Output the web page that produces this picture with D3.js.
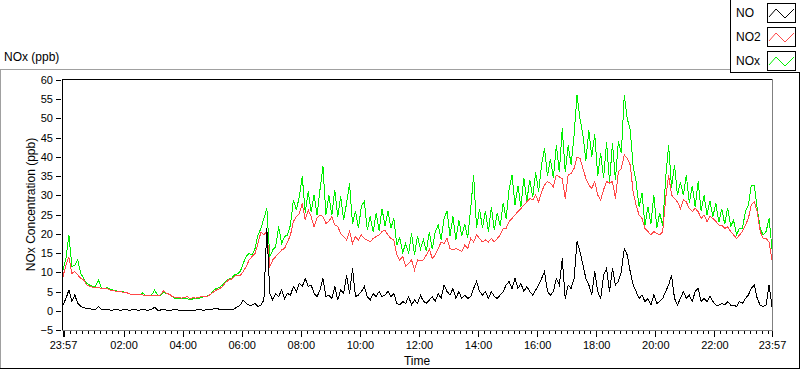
<!DOCTYPE html>
<html>
<head>
<meta charset="utf-8">
<script src="https://d3js.org/d3.v7.min.js"></script>
<style>
    html, body { margin: 0; padding: 0; background: #fff; }
    svg { display: block; }
</style>
</head>
<body>
<div id="chart-div"></div>
<script>
// DATA ///////////////////////////////////////////////////////////////////////
// One reading every 6 minutes, from 23:57 to 23:57 the next day.
const sampleStepMin = 6;

const seriesNames = ["NO", "NO2", "NOx"];

const noValues = [
    1.5, 3.2, 5.4, 2.4, 4.1, 1.9, 1.2, 0.8, 0.6, 0.5,
    0.4, 0.3, 1.1, 0.3, 0.2, 0.3, 0.2, 0.2, 0.3, 0.2,
    0.2, 0.3, 0.2, 0.2, 0.3, 0.2, 0.2, 0.3, 0.2, 0.2,
    0.4, 0.9, 0.2, 0.2, 0.3, 0.2, 0.2, 0.2, 0.3, 0.2,
    0.2, 0.2, 0.2, 0.2, 0.2, 0.2, 0.3, 0.2, 0.2, 0.3,
    0.2, 0.5, 0.7, 0.3, 0.2, 0.3, 0.2, 0.3, 0.5, 1.0,
    1.5, 2.8, 1.9, 1.5, 1.5, 1.9, 1.1, 1.5, 2.8, 21.5,
    4.5, 2.8, 4.5, 3.7, 5.4, 3.2, 4.5, 4.1, 6.3, 5.0,
    7.1, 6.3, 8.4, 6.3, 6.7, 4.5, 3.7, 5.4, 8.4, 3.7,
    4.1, 3.2, 6.3, 2.8, 5.4, 4.5, 9.3, 4.5, 11.0, 3.7,
    4.1, 5.0, 6.3, 3.7, 2.8, 4.5, 3.7, 5.0, 3.7, 4.1,
    5.0, 3.7, 4.5, 1.9, 1.5, 2.4, 1.9, 3.7, 1.5, 2.8,
    1.9, 4.0, 2.5, 1.9, 2.8, 3.7, 2.4, 4.5, 3.2, 6.7,
    5.0, 4.1, 5.8, 3.2, 5.0, 3.2, 4.1, 3.2, 3.7, 5.8,
    7.6, 5.0, 4.1, 5.0, 3.2, 5.0, 3.7, 3.2, 4.1, 5.0,
    6.7, 7.6, 5.8, 8.4, 5.8, 7.1, 5.0, 6.3, 5.0, 4.1,
    5.4, 6.7, 8.4, 10.2, 5.0, 4.1, 5.0, 8.4, 6.7, 13.6,
    3.2, 6.7, 5.8, 8.4, 18.0, 15.4, 11.9, 8.4, 6.7, 4.1,
    10.2, 5.0, 3.2, 9.3, 11.0, 5.0, 11.0, 6.7, 7.6, 10.2,
    16.2, 14.5, 10.2, 6.7, 5.0, 3.2, 4.1, 2.4, 3.2, 1.5,
    4.1, 1.9, 2.4, 3.2, 5.0, 6.7, 9.3, 3.2, 1.5, 3.2,
    5.0, 3.2, 4.1, 2.4, 5.0, 5.8, 2.4, 3.2, 2.4, 3.7,
    2.4, 1.5, 1.5, 1.9, 1.5, 2.4, 1.5, 1.5, 1.1, 2.4,
    1.9, 3.2, 4.1, 5.8, 6.7, 3.2, 1.5, 1.1, 1.5, 6.7,
    1.1
];

const no2Values = [
    8.9, 11.9, 14.0, 9.7, 10.2, 9.3, 8.4, 8.0, 6.7, 6.4,
    6.1, 6.0, 6.1, 5.8, 5.7, 5.7, 5.4, 5.2, 5.1, 4.9,
    4.9, 4.7, 4.6, 4.3, 4.3, 4.2, 4.2, 4.1, 4.0, 4.0,
    4.1, 4.1, 4.0, 4.1, 5.2, 4.5, 4.3, 3.7, 3.5, 3.4,
    3.3, 3.4, 3.7, 3.2, 3.4, 3.3, 3.5, 3.7, 3.8, 3.8,
    4.3, 4.9, 5.4, 5.7, 6.3, 7.3, 8.0, 8.2, 8.9, 9.3,
    9.2, 10.2, 11.5, 13.2, 14.1, 14.9, 17.5, 20.5, 19.7, 20.6,
    11.5, 13.2, 14.1, 14.9, 15.8, 16.2, 17.9, 19.7, 23.2, 24.5,
    25.3, 27.9, 23.6, 26.2, 24.5, 21.8, 24.1, 24.9, 24.5, 22.7,
    23.2, 24.5, 22.3, 21.9, 20.1, 19.3, 18.4, 20.6, 17.5, 19.3,
    18.4, 19.7, 18.8, 18.4, 17.9, 18.8, 19.3, 19.7, 20.6, 21.0,
    19.7, 18.8, 18.4, 14.5, 13.2, 14.1, 11.5, 12.3, 13.2, 10.6,
    13.2, 13.0, 13.2, 14.5, 16.0, 13.6, 14.5, 16.2, 17.9, 17.5,
    18.8, 16.2, 15.8, 16.2, 15.8, 15.4, 17.1, 16.2, 18.8, 17.9,
    19.7, 18.8, 17.9, 18.4, 17.9, 18.8, 17.9, 18.8, 19.7, 21.4,
    21.4, 23.2, 24.0, 24.9, 25.8, 26.6, 27.5, 28.3, 29.2, 28.8,
    30.1, 28.3, 30.9, 32.7, 33.6, 33.1, 32.2, 35.3, 34.8, 34.4,
    29.2, 35.3, 35.7, 37.0, 40.0, 39.6, 37.0, 34.4, 32.7, 31.8,
    33.6, 30.1, 28.8, 31.5, 33.6, 33.2, 33.6, 29.2, 36.1, 37.0,
    40.5, 39.6, 37.9, 30.9, 27.5, 24.9, 24.0, 21.4, 20.6, 19.7,
    20.6, 20.1, 19.7, 20.6, 29.2, 35.3, 30.1, 29.2, 28.3, 26.6,
    28.8, 28.3, 26.6, 25.8, 26.6, 25.8, 24.0, 24.9, 23.2, 24.5,
    24.0, 23.2, 22.3, 22.3, 21.4, 21.8, 20.6, 19.7, 18.8, 19.7,
    20.6, 22.3, 24.0, 27.5, 28.3, 25.8, 20.6, 18.8, 18.8, 17.9,
    13.2
];

const noxValues = [
    10.6, 13.6, 19.7, 11.5, 11.9, 13.2, 9.7, 8.4, 7.1, 6.7,
    6.3, 6.4, 8.0, 5.9, 5.8, 6.0, 5.6, 5.4, 5.2, 5.0,
    5.0, 4.8, 4.5, 4.3, 4.3, 4.3, 4.1, 4.7, 3.9, 3.9,
    4.1, 5.4, 4.1, 4.1, 4.7, 4.5, 4.3, 3.7, 3.2, 3.2,
    3.1, 3.2, 3.2, 2.8, 3.1, 3.2, 3.2, 3.5, 3.7, 3.9,
    4.3, 5.4, 5.8, 6.1, 6.7, 7.6, 8.2, 8.4, 9.3, 9.6,
    10.2, 12.3, 14.1, 14.9, 14.5, 16.2, 19.7, 21.4, 24.0, 26.6,
    14.1, 15.8, 16.7, 21.9, 17.5, 19.3, 19.7, 22.3, 28.8, 26.2,
    29.7, 34.9, 25.5, 31.0, 25.8, 30.2, 24.8, 31.5, 37.5, 25.0,
    30.0, 24.8, 31.5, 24.5, 29.7, 23.5, 28.0, 33.1, 22.5, 26.0,
    21.5, 27.1, 28.5, 21.0, 24.5, 20.5, 25.5, 20.8, 26.5, 22.0,
    26.0, 21.5, 24.0, 17.1, 19.0, 15.2, 17.5, 14.9, 20.1, 14.5,
    19.5, 16.0, 18.5, 15.5, 20.5, 16.0, 20.5, 22.3, 18.5, 24.0,
    26.0, 19.5, 24.5, 18.5, 23.5, 19.5, 22.5, 19.0, 26.5, 35.3,
    21.5, 26.5, 21.5, 26.0, 20.5, 27.0, 21.0, 25.5, 22.0, 28.0,
    24.0, 31.5, 35.3, 27.5, 32.5, 27.0, 34.5, 28.5, 34.0, 29.5,
    36.0, 31.0, 38.0, 42.2, 35.0, 39.5, 34.5, 43.1, 36.0, 47.4,
    36.0, 43.0, 38.0, 45.7, 56.1, 50.0, 45.7, 39.0, 47.0, 40.0,
    46.0, 35.0, 41.0, 34.5, 43.8, 33.5, 43.5, 34.0, 44.0, 41.0,
    56.1, 50.0, 47.0, 37.5, 33.5, 27.0, 30.5, 22.3, 27.0, 22.5,
    30.1, 21.5, 25.5, 22.0, 34.4, 43.1, 32.0, 38.0, 30.0, 33.5,
    30.0, 35.3, 28.0, 32.5, 27.0, 33.6, 26.0, 30.0, 25.0, 28.5,
    24.5, 28.0, 23.0, 26.5, 22.5, 26.8, 22.0, 23.5, 19.7, 21.5,
    21.4, 25.8, 27.5, 32.7, 32.7, 26.6, 21.4, 19.7, 20.6, 24.0,
    16.2
];

// Y ticks (ppb) and X ticks (minutes after 23:57) with their labels
const yTicks = [-5, 0, 5, 10, 15, 20, 25, 30, 35, 40, 45, 50, 55, 60];
const xTickMinutes = [0, 3, 123, 243, 363, 483, 603, 723, 843, 963, 1083, 1203, 1323, 1440];
const xTickLabels = ["23:57", "", "02:00", "04:00", "06:00", "08:00", "10:00",
                     "12:00", "14:00", "16:00", "18:00", "20:00", "22:00", "23:57"];

(function() {
    const FONT = "'Liberation Sans', Arial, sans-serif";
    const W = 800, H = 369;
    const plot = {left: 62, right: 772, top: 79, bottom: 330};
    const colors = {NO: "#000000", NO2: "#ff4848", NOx: "#00f000"};


    // CHART UTILITY FUNCTIONS ////////////////////////////////////////////////
    function createBlankChart(w, h, p) {
        return d3.select(p)
            .append("svg")
            .attr("width", w)
            .attr("height", h)
            .style("font-family", FONT);
    }

    function hline(svg, x1, x2, yy, color) {
        svg.append("line")
            .attr("x1", x1).attr("x2", x2)
            .attr("y1", yy + 0.5).attr("y2", yy + 0.5)
            .attr("stroke", color);
    }

    function vline(svg, xx, y1, y2, color) {
        svg.append("line")
            .attr("x1", xx + 0.5).attr("x2", xx + 0.5)
            .attr("y1", y1).attr("y2", y2)
            .attr("stroke", color);
    }

    // Outer panel and the plot area borders (LabVIEW-like 3D edges)
    function drawFrames(svg) {
        hline(svg, 0, 730, 69, "#a0a0a0");
        vline(svg, 0, 69, H, "#a0a0a0");
        hline(svg, 0, W, 368, "#000");
        vline(svg, 799, 72, H, "#000");

        hline(svg, plot.left, plot.right + 1, plot.top, "#000");
        vline(svg, plot.left, plot.top, plot.bottom + 1, "#000");
        hline(svg, plot.left, plot.right + 1, plot.bottom, "#808080");
        vline(svg, plot.right, plot.top, plot.bottom + 1, "#808080");
    }

    function drawAxes(svg, x, y) {
        const yAxis = d3.axisLeft(y)
            .tickValues(yTicks)
            .tickSize(5)
            .tickPadding(3);
        svg.append("g")
            .attr("transform", `translate(${plot.left - 1},0)`)
            .call(yAxis)
            .call(g => g.select(".domain").remove())
            .attr("font-family", FONT)
            .attr("font-size", 11);

        // minor ticks every 12 minutes from 00:00
        const minor = d3.range(15, 1440, 12).filter(function(m) {
            return (m - 3) % 120 !== 0;
        });
        svg.append("g")
            .attr("transform", `translate(0,${plot.bottom + 1})`)
            .call(d3.axisBottom(x).tickValues(minor).tickSize(3).tickFormat(""))
            .call(g => g.select(".domain").remove());

        const xAxis = d3.axisBottom(x)
            .tickValues(xTickMinutes)
            .tickFormat(function(d, i) { return xTickLabels[i]; })
            .tickSize(6)
            .tickPadding(4);
        svg.append("g")
            .attr("transform", `translate(0,${plot.bottom + 1})`)
            .call(xAxis)
            .call(g => g.select(".domain").remove())
            .attr("font-family", FONT)
            .attr("font-size", 11);

        svg.selectAll(".tick line").attr("shape-rendering", "crispEdges");

        // titles
        svg.append("text")
            .attr("x", 4).attr("y", 61)
            .attr("font-size", 12)
            .text("NOx (ppb)");

        svg.append("text")
            .attr("transform", `translate(35,${(plot.top + plot.bottom) / 2}) rotate(-90)`)
            .attr("text-anchor", "middle")
            .attr("font-size", 12)
            .text("NOx Concentration (ppb)");

        svg.append("text")
            .attr("x", 417).attr("y", 365)
            .attr("text-anchor", "middle")
            .attr("font-size", 12)
            .text("Time");
    }

    function drawSeries(svg, x, y) {
        const line = d3.line()
            .x(function(d, i) { return x(i * sampleStepMin); })
            .y(function(d) { return y(d); });

        // NOx underneath, NO on top
        [["NOx", noxValues], ["NO2", no2Values], ["NO", noValues]].forEach(function(s) {
            svg.append("path")
                .datum(s[1])
                .attr("d", line)
                .attr("fill", "none")
                .attr("stroke", colors[s[0]])
                .attr("stroke-width", 1)
                .attr("shape-rendering", "crispEdges");
        });
    }

    function drawLegend(svg) {
        const legend = svg.append("g");
        legend.append("rect")
            .attr("x", 730.5).attr("y", -1)
            .attr("width", 72).attr("height", 73.5)
            .attr("fill", "#fff")
            .attr("stroke", "#000");

        const zig = d3.line()([[2, 14], [9, 6], [18, 15], [27, 6]]);
        seriesNames.forEach(function(name, i) {
            const top = 3 + i * 24;
            legend.append("text")
                .attr("x", 736).attr("y", top + 14)
                .attr("font-size", 12)
                .text(name);
            legend.append("rect")
                .attr("x", 767.5).attr("y", top + 0.5)
                .attr("width", 28).attr("height", 19)
                .attr("fill", "#fff")
                .attr("stroke", "#000");
            legend.append("path")
                .attr("transform", `translate(767,${top})`)
                .attr("d", zig)
                .attr("fill", "none")
                .attr("stroke", colors[name]);
        });
    }


    // ALL TOGETHER ///////////////////////////////////////////////////////////
    function main() {
        const svg = createBlankChart(W, H, "#chart-div");
        const x = d3.scaleLinear().domain([0, 1440]).range([63, plot.right]);
        const y = d3.scaleLinear().domain([-5, 60]).range([plot.bottom, 80]);

        drawFrames(svg);
        drawSeries(svg, x, y);
        drawAxes(svg, x, y);
        drawLegend(svg);
    }
    main();
})();
</script>
</body>
</html>
